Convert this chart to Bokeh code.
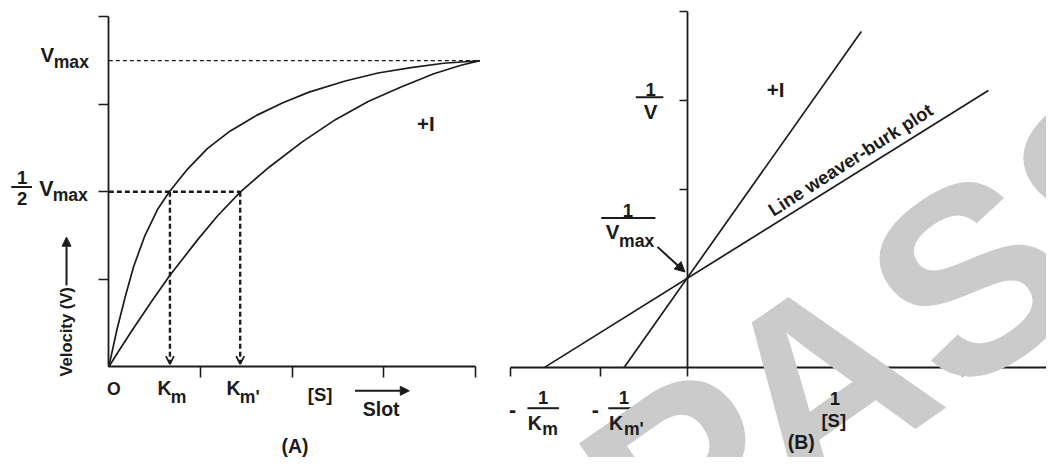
from bokeh.plotting import figure
from bokeh.models import Range1d, LinearAxis, FixedTicker, Arrow, NormalHead, OpenHead, Label
from bokeh.embed import file_html
from bokeh.resources import INLINE
import math

# ---------------- data ----------------
# Panel A: Michaelis-Menten curves ([S] and V in axis units)
S_A = [0, 0.090, 0.179, 0.269, 0.394, 0.538, 0.663, 0.860, 1.075, 1.326, 1.613,
       1.900, 2.186, 2.581, 2.939, 3.298, 3.656, 4.050]
V_A = [0, 0.431, 0.799, 1.140, 1.500, 1.810, 2.003, 2.260, 2.494, 2.696, 2.874,
       3.018, 3.140, 3.267, 3.359, 3.421, 3.470, 3.499]
S_I = [0, 0.108, 0.251, 0.466, 0.663, 0.968, 1.183, 1.434, 1.756, 2.115, 2.473,
       2.831, 3.190, 3.548, 3.835, 4.050]
V_I = [0, 0.180, 0.410, 0.745, 1.039, 1.450, 1.720, 1.997, 2.287, 2.574, 2.825,
       3.033, 3.198, 3.350, 3.445, 3.500]
VMAX = 3.5
HALF_VMAX = 2.0
KM = 0.667
KM_I = 1.434
A_XTICKS = [1, 2, 3, 4]
A_YTICKS = [1, 2, 3, 4]

# Panel B: Lineweaver-Burk lines (1/[S], 1/V)
LB_X = [-1.587, 3.315]
LB_Y = [0, 3.11]
LBI_X = [-0.707, 1.913]
LBI_Y = [0, 3.772]
B_XTICKS = [-1.96, -0.97, 0, 1.03, 2.04, 3.03]
B_YTICKS = [2, 3, 4]

# ---------------- layout constants ----------------
W, H = 1046, 457            # figure size (fits the window)
REF_W, REF_H = 1062, 473    # design space
FS = 0.975                  # font scale from design space to figure
FONT = "Liberation Sans"
INK = "#1b1b1b"

# design-space anchors and px-per-unit for each panel
A_X0, A_KX, A_Y0, A_KY = 110, 93.0, 379, 90.5
B_X0, B_KX, B_Y0, B_KY = 698, 92.0, 380, 92.25

p = figure(width=W, height=H,
           x_range=Range1d(-A_X0 / A_KX, (REF_W - A_X0) / A_KX),
           y_range=Range1d(-(REF_H - A_Y0) / A_KY, A_Y0 / A_KY),
           x_axis_type=None, y_axis_type=None,
           toolbar_location=None, output_backend="svg",
           min_border=0, outline_line_color=None)
p.extra_x_ranges = {"xb": Range1d(-B_X0 / B_KX, (REF_W - B_X0) / B_KX)}
p.extra_y_ranges = {"yb": Range1d(-(REF_H - B_Y0) / B_KY, B_Y0 / B_KY)}
p.background_fill_color = "white"
p.border_fill_color = "white"


def rn(panel):
    return ("default", "default") if panel == "A" else ("xb", "yb")


def lab(panel, x, y, text, size, align="center", baseline="middle", angle=0.0,
        color=INK, style="bold"):
    xr, yr = rn(panel)
    p.add_layout(Label(x=x, y=y, text=text, x_range_name=xr, y_range_name=yr,
                       text_font=FONT, text_font_size=f"{size * FS:.1f}px",
                       text_font_style=style,
                       text_color=color, text_align=align, text_baseline=baseline,
                       angle=math.radians(angle)))


def bar(panel, x0, x1, y):
    xr, yr = rn(panel)
    p.segment(x0=[x0], y0=[y], x1=[x1], y1=[y], line_color=INK, line_width=2,
              x_range_name=xr, y_range_name=yr)


def axis(panel, side, loc, ticks, bounds, tick_out):
    xr, yr = rn(panel)
    ax = LinearAxis(fixed_location=loc, ticker=FixedTicker(ticks=ticks), bounds=bounds,
                    major_tick_out=tick_out, major_tick_in=0,
                    minor_tick_out=0, minor_tick_in=0,
                    major_label_overrides={t: "" for t in ticks},
                    axis_line_color=INK, axis_line_width=1.8,
                    major_tick_line_color=INK, major_tick_line_width=1.6,
                    x_range_name=xr, y_range_name=yr)
    p.add_layout(ax, side)


# ---------------- watermark ----------------
lab("B", 2.359, 0.450, "PASS", 270, angle=35, color="#cbcbcb")

# ---------------- Panel A ----------------
axis("A", "left", 0, A_YTICKS, (0, 4), 10)
axis("A", "below", 0, A_XTICKS, (0, 4), 11)

p.line([0, S_A[-1]], [VMAX, VMAX], line_color=INK, line_width=1.3, line_dash="4 3")
p.line([0, KM_I], [HALF_VMAX, HALF_VMAX], line_color=INK, line_width=2.4, line_dash="5 3")
for k in (KM, KM_I):
    p.add_layout(Arrow(x_start=k, y_start=HALF_VMAX, x_end=k, y_end=0.03,
                       line_color=INK, line_width=2.4, line_dash="5 3",
                       end=OpenHead(size=8, line_color=INK, line_width=1.8)))

p.line(S_A, V_A, line_color=INK, line_width=1.7, line_join="round")
p.line(S_I, V_I, line_color=INK, line_width=1.7, line_join="round")

lab("A", -0.672, 3.569, "V", 21)
lab("A", -0.602, 3.481, "max", 18, align="left")
lab("A", -0.946, 2.166, "1", 19)
lab("A", -0.946, 1.923, "2", 19)
bar("A", -1.065, -0.839, 2.055)
lab("A", -0.683, 2.033, "V", 22)
lab("A", -0.613, 1.967, "max", 18, align="left")
lab("A", 0.054, -0.254, "O", 18)
lab("A", 0.608, -0.249, "K", 20)
lab("A", 0.677, -0.343, "m", 18, align="left")
lab("A", 1.360, -0.249, "K", 20)
lab("A", 1.430, -0.343, "m'", 18, align="left")
lab("A", 2.306, -0.315, "[S]", 19)
lab("A", 2.973, -0.481, "Slot", 20)
p.add_layout(Arrow(x_start=2.688, y_start=-0.276, x_end=3.280, y_end=-0.276,
                   line_color=INK, line_width=2,
                   end=NormalHead(size=9, fill_color=INK, line_color=INK)))
lab("A", 2.032, -0.906, "(A)", 20)
lab("A", -0.462, 0.398, "Velocity (V)", 17, angle=90)
p.add_layout(Arrow(x_start=-0.462, y_start=0.928, x_end=-0.462, y_end=1.481,
                   line_color=INK, line_width=2,
                   end=NormalHead(size=9, fill_color=INK, line_color=INK)))
lab("A", 3.462, 2.785, "+I", 21)

# ---------------- Panel B ----------------
axis("B", "left", 0, B_YTICKS, (0, 4), 8)
axis("B", "below", 0, B_XTICKS, (-1.96, 4), 9)

p.line(LB_X, LB_Y, line_color=INK, line_width=1.7, x_range_name="xb", y_range_name="yb")
p.line(LBI_X, LBI_Y, line_color=INK, line_width=1.7, x_range_name="xb", y_range_name="yb")

lab("B", -0.413, 3.122, "1", 19)
bar("B", -0.576, -0.272, 3.035)
lab("B", -0.413, 2.878, "V", 21)

lab("B", -0.663, 1.767, "1", 19)
bar("B", -0.957, -0.359, 1.680)
lab("B", -0.832, 1.528, "V", 21)
lab("B", -0.761, 1.425, "max", 18, align="left")
p.add_layout(Arrow(x_start=-0.337, y_start=1.355, x_end=-0.033, y_end=1.073,
                   line_color=INK, line_width=2, x_range_name="xb", y_range_name="yb",
                   end=NormalHead(size=10, fill_color=INK, line_color=INK)))

lab("B", -1.935, -0.466, "-", 22)
lab("B", -1.598, -0.336, "1", 19)
bar("B", -1.772, -1.424, -0.455)
lab("B", -1.690, -0.618, "K", 20)
lab("B", -1.609, -0.683, "m", 18, align="left")

lab("B", -1.022, -0.466, "-", 22)
lab("B", -0.707, -0.336, "1", 19)
bar("B", -0.880, -0.522, -0.455)
lab("B", -0.793, -0.618, "K", 20)
lab("B", -0.707, -0.683, "m'", 18, align="left")

lab("B", 1.620, -0.347, "1", 19)
bar("B", 1.435, 1.793, -0.455)
lab("B", 1.609, -0.596, "[S]", 19)
lab("B", 1.250, -0.835, "(B)", 20)

lab("B", 0.967, 3.122, "+I", 21)
lab("B", 1.793, 2.331, "Line weaver-burk plot", 19, angle=32.7)

open("out.html", "w").write(file_html(p, INLINE))
